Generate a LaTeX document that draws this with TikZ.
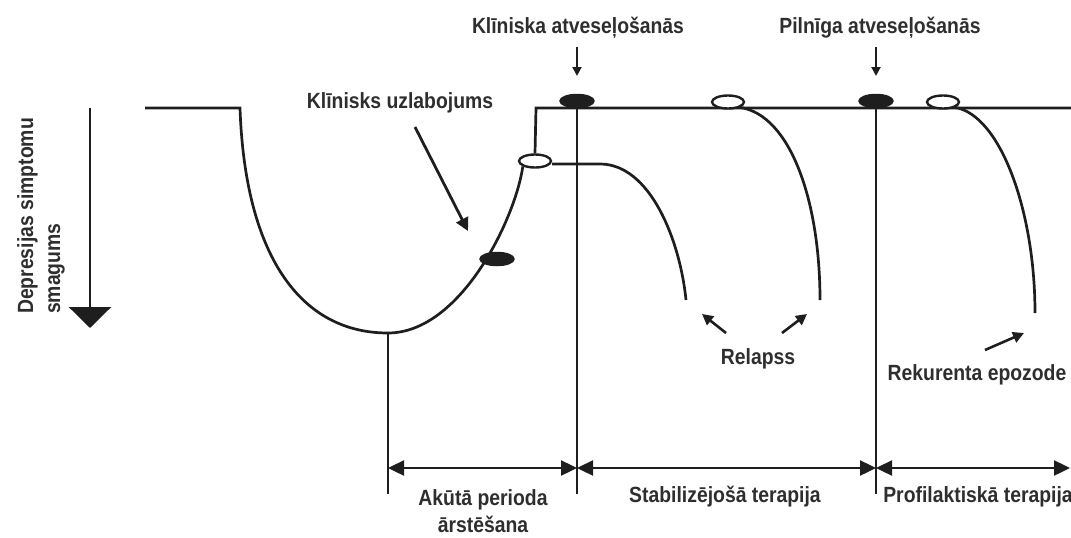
\documentclass[tikz,border=0pt]{standalone}
\usepackage{fontspec}
\setmainfont{Liberation Sans}[FakeStretch=0.88]
\usetikzlibrary{arrows.meta,shapes.geometric}
\definecolor{ink}{HTML}{1e1e1e}
\definecolor{txt}{HTML}{2e2e2e}
\begin{document}
\begin{tikzpicture}[x=1pt,y=-1pt,
  line width=2.7pt, draw=ink,
  lbl/.style={font=\fontsize{22}{27}\selectfont\bfseries, text=txt, inner sep=0pt, align=center},
  fillov/.style={ellipse, draw=ink, fill=ink, line width=1.5pt, minimum width=34pt, minimum height=13pt, inner sep=0pt},
  openov/.style={ellipse, draw=ink, fill=white, line width=2.4pt, minimum width=32pt, minimum height=13pt, inner sep=0pt},
  smallarr/.style={line width=2pt, -{Triangle[length=9pt,width=9pt]}},
  midarr/.style={line width=2.8pt, -{Triangle[length=13pt,width=13pt]}},
  tiparr/.style={line width=2.6pt, -{Triangle[length=11pt,width=11pt]}},
  dimarr/.style={line width=2.4pt, {Triangle[length=16pt,width=15pt]}-{Triangle[length=16pt,width=15pt]}}
]
\useasboundingbox (0,0) rectangle (1071,538);

% axis
\coordinate (ax0) at (90,108);
\coordinate (ax1) at (90,328);
\draw[line width=2.8pt, -{Triangle[length=21pt,width=42pt]}] (ax0) -- (ax1);
\node[lbl, rotate=90, align=left] (axl) at (41,216) {Depresijas simptomu\\smagums};

% main curve
\coordinate (s0) at (145,108);
\coordinate (s1) at (240,108);
\coordinate (bot) at (388,333);
\coordinate (top1) at (536,108);
\coordinate (eend) at (1071,108);
\node[openov] (w1) at (535,161) {};
\draw (s0) -- (s1) .. controls (245,255) and (300,333) .. (bot)
      .. controls (460,333) and (515,220) .. (w1.south west);
\draw (w1.north) -- (top1) -- (eend);

% filled ellipses
\node[fillov] (b0) at (497,259) {};
\node[fillov] (b1) at (577,101) {};
\node[fillov] (b2) at (876,101) {};

% open ellipses on top line
\node[openov] (w2) at (728,102) {};
\node[openov] (w3) at (943,102) {};

% relapse curves
\coordinate (r1a) at (600,164);
\coordinate (r1e) at (686,300);
\draw (w1.east |- r1a) -- (r1a) .. controls (650,164) and (680,240) .. (r1e);
\coordinate (r2e) at (820,300);
\draw (w2.south east) .. controls (790,115) and (820,200) .. (r2e);
\coordinate (r3e) at (1035,313);
\draw (w3.south east) .. controls (1000,115) and (1035,210) .. (r3e);

% vertical lines
\coordinate (v0) at (388,494);
\coordinate (v1) at (577,494);
\coordinate (v2) at (876,494);
\draw (bot) -- (v0);
\draw (b1.center) -- (v1);
\draw (b2.center) -- (v2);

% dimension arrows
\coordinate (d0) at (388,468);
\coordinate (d1) at (577,468);
\coordinate (d2) at (876,468);
\coordinate (d3) at (1070,468);
\draw[dimarr] (d0) -- (d1);
\draw[dimarr] (d1) -- (d2);
\draw[dimarr] (d2) -- (d3);

% top labels
\node[lbl] (kla) at (578,28) {Klīniska atveseļošanās};
\node[lbl] (pla) at (880,28) {Pilnīga atveseļošanās};
\coordinate (ka0) at (577,47);
\coordinate (ka1) at (577,76);
\coordinate (pa0) at (876,47);
\coordinate (pa1) at (876,76);
\draw[smallarr] (ka0) -- (ka1);
\draw[smallarr] (pa0) -- (pa1);

% clinical improvement
\node[lbl] (ku) at (400,103) {Klīnisks uzlabojums};
\coordinate (kua0) at (415,127);
\coordinate (kua1) at (468,231);
\draw[midarr] (kua0) -- (kua1);

% relapse
\node[lbl] (rel) at (758,359) {Relapss};
\coordinate (ra0) at (726,333);
\coordinate (ra1) at (702,314);
\coordinate (rb0) at (782,333);
\coordinate (rb1) at (807,314);
\draw[tiparr] (ra0) -- (ra1);
\draw[tiparr] (rb0) -- (rb1);

% recurrence
\node[lbl] (rek) at (977,375) {Rekurenta epozode};
\coordinate (rka0) at (985,350);
\coordinate (rka1) at (1024,333);
\draw[tiparr] (rka0) -- (rka1);

% bottom labels
\node[lbl] (akl) at (483,511) {Akūtā perioda\\ārstēšana};
\node[lbl] (stl) at (725,497) {Stabilizējošā terapija};
\node[lbl] (prl) at (978,497) {Profilaktiskā terapija};
\end{tikzpicture}
\end{document}
